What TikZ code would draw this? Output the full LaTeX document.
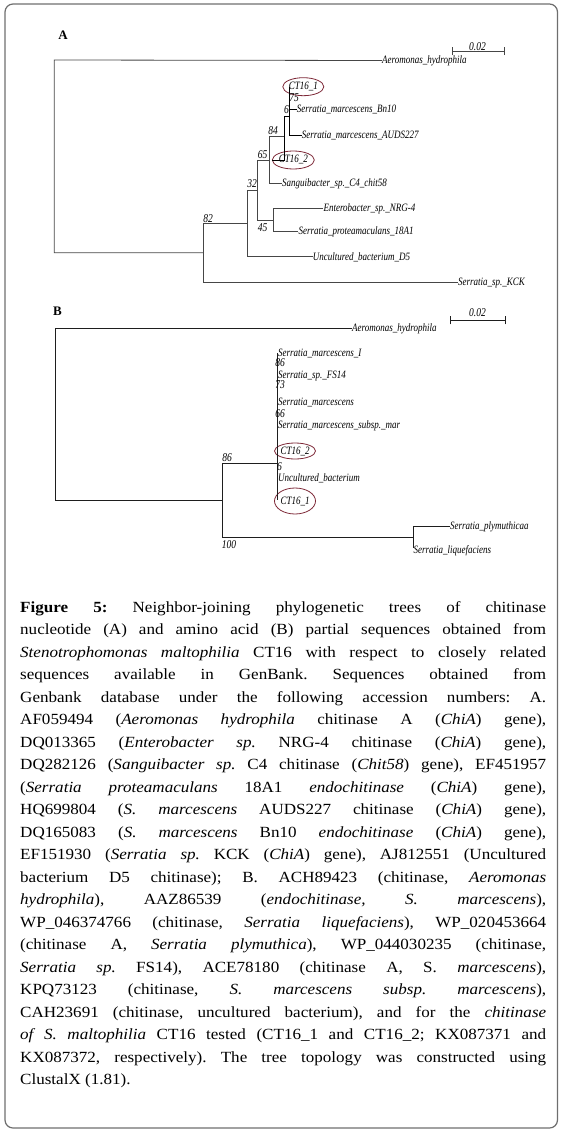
\documentclass[tikz,border=0pt]{standalone}
\usepackage{fontspec}
\usepackage{graphicx}
\setmainfont{Liberation Serif}
\usetikzlibrary{shapes.geometric}
\definecolor{treeA}{RGB}{70,70,70}
\definecolor{treeB}{RGB}{30,30,30}
\definecolor{ellred}{RGB}{125,40,55}
\definecolor{frame}{RGB}{110,110,110}
\tikzset{
  brA/.style={draw=treeA, line width=0.8pt},
  brB/.style={draw=treeB, line width=0.8pt},
  lbl/.style={font=\fontsize{9}{9}\selectfont\itshape, inner sep=0pt, anchor=west},
  bsv/.style={font=\fontsize{9.5}{9.5}\selectfont\itshape, inner sep=0pt},
  ell/.style={ellipse, draw=ellred, line width=0.8pt, inner sep=0pt, font=\fontsize{9}{9}\selectfont\itshape},
  panel/.style={font=\fontsize{13}{13}\selectfont\bfseries, inner sep=0pt},
  capl/.style={inner sep=0pt, anchor=base west, font=\fontsize{15.5}{15.5}\selectfont\frenchspacing},
}
\newcommand{\jl}[1]{\scalebox{1.1}[1]{\makebox[478.18pt][s]{#1}}}
\newcommand{\lastl}[1]{\scalebox{1.1}[1]{#1}}
\newcommand{\tl}[1]{\scalebox{1}[1.25]{#1}}
\begin{document}
\begin{tikzpicture}[x=1pt,y=-1pt]
\useasboundingbox (0,0) rectangle (565,1134);
\draw[frame, line width=1.2pt, rounded corners=8pt] (5,4) rectangle (557.5,1128);

% ---------------- Tree A ----------------
\node[panel] (pA) at (63,35) {A};
\coordinate (sa1) at (452.3,51.7); \coordinate (sa2) at (504.3,51.7);
\draw[brA] (sa1) -- (sa2);
\draw[brA] ([yshift=-3.5pt]sa1) -- ([yshift=4.3pt]sa1);
\draw[brA] ([yshift=-3.5pt]sa2) -- ([yshift=4.3pt]sa2);
\node[bsv] (sca) at (477.5,46.5) {\tl{0.02}};

\node[lbl] (aAer) at (382,60.5) {\tl{Aeromonas\_hydrophila}};
\node[lbl] (aKCK) at (458,282.8) {\tl{Serratia\_sp.\_KCK}};
\node[lbl] (aD5) at (312.7,257.2) {\tl{Uncultured\_bacterium\_D5}};
\node[lbl] (aEnt) at (323.3,208.8) {\tl{Enterobacter\_sp.\_NRG-4}};
\node[lbl] (aPro) at (298.3,232.2) {\tl{Serratia\_proteamaculans\_18A1}};
\node[lbl] (aSan) at (282,183.8) {\tl{Sanguibacter\_sp.\_C4\_chit58}};
\node[lbl] (aAUD) at (301.7,135.5) {\tl{Serratia\_marcescens\_AUDS227}};
\node[lbl] (aBn) at (296.7,109.8) {\tl{Serratia\_marcescens\_Bn10}};
\node[ell, minimum width=41pt, minimum height=18pt] (aCT1) at (303.3,86.7) {\tl{CT16\_1}};
\node[ell, minimum width=42pt, minimum height=18pt] (aCT2) at (293.3,160) {\tl{CT16\_2}};

\coordinate (a0t) at (54.3,60);   \coordinate (a0b) at (54.3,252.7);
\coordinate (a82t) at (203,223.3); \coordinate (a82b) at (203,282.3);
\coordinate (a32t) at (247.7,190); \coordinate (a32b) at (247.7,256.7);
\coordinate (a65t) at (257.7,160); \coordinate (a65b) at (257.7,220.7);
\coordinate (a45t) at (273.3,208.3); \coordinate (a45b) at (273.3,231.7);
\coordinate (a84t) at (269,136.7); \coordinate (a84b) at (269,183.3);
\coordinate (aXt) at (284.3,116.7); \coordinate (aXb) at (284.3,160);
\coordinate (aYt) at (289.7,86.7); \coordinate (aYb) at (289.7,135);

\draw[brA] (aAer.west) -- (a0t) -- (a0b) -- (a82t |- a0b);
\draw[brA] (a82t) -- (a82b) -- (aKCK.west |- a82b);
\draw[brA] (a82t) -- (a32t |- a82t);
\draw[brA] (a32t) -- (a32b) -- (aD5.west |- a32b);
\draw[brA] (a32t) -- (a65t |- a32t);
\draw[brA] (a65t) -- (a65b) -- (a45t |- a65b);
\draw[brA] (a45t) -- (a45b) -- (aPro.west |- a45b);
\draw[brA] (a45t) -- (aEnt.west |- a45t);
\draw[brA] (a65t) -- (a84t |- a65t);
\draw[brA] (a84t) -- (a84b) -- (aSan.west |- a84b);
\draw[brA] (a84t) -- (aXt |- a84t);
\draw[black, line width=0.8pt] (aXt) -- (aXb) -- (aCT2.west |- aXb);
\draw[black, line width=0.8pt] (aXt) -- (aYt |- aXt);
\draw[black, line width=0.8pt] (aYt) -- (aYb) -- (aAUD.west |- aYb);
\draw[black, line width=0.8pt] (aYt |- aBn) -- (aBn.west);

\node[bsv] (b82) at (208,218.5) {\tl{82}};
\node[bsv] (b32) at (252,184) {\tl{32}};
\node[bsv] (b65) at (262.5,154.5) {\tl{65}};
\node[bsv] (b45) at (262.5,227.5) {\tl{45}};
\node[bsv] (b84) at (273,131) {\tl{84}};
\node[bsv] (b6) at (286.5,109.5) {\tl{6}};
\node[bsv] (b75) at (294,97.5) {\tl{75}};

% ---------------- Tree B ----------------
\node[panel] (pB) at (57.5,311) {B};
\coordinate (sb1) at (450,320); \coordinate (sb2) at (505,320);
\draw[brB] (sb1) -- (sb2);
\draw[brB] ([yshift=-4.3pt]sb1) -- ([yshift=4.3pt]sb1);
\draw[brB] ([yshift=-4.3pt]sb2) -- ([yshift=4.3pt]sb2);
\node[bsv] (scb) at (477.5,313) {\tl{0.02}};

\node[lbl] (bAer) at (352,328.8) {\tl{Aeromonas\_hydrophila}};
\node[lbl] (bSm1) at (278,353.5) {\tl{Serratia\_marcescens\_I}};
\node[lbl] (bFS) at (278,375.5) {\tl{Serratia\_sp.\_FS14}};
\node[lbl] (bSm) at (278,402.7) {\tl{Serratia\_marcescens}};
\node[lbl] (bSub) at (278,426) {\tl{Serratia\_marcescens\_subsp.\_mar}};
\node[ell, minimum width=38pt, minimum height=16pt] (bCT2) at (295,451) {\tl{CT16\_2}};
\node[lbl] (bUnc) at (278,478.5) {\tl{Uncultured\_bacterium}};
\node[ell, minimum width=35pt, minimum height=26pt] (bCT1) at (295,501) {\tl{CT16\_1}};
\node[lbl] (bPly) at (450,526.5) {\tl{Serratia\_plymuthicaa}};
\node[lbl] (bLiq) at (413.3,551) {\tl{Serratia\_liquefaciens}};

\coordinate (b0t) at (55.5,328.3); \coordinate (b0b) at (55.5,500);
\coordinate (b86t) at (222.7,463.3); \coordinate (b86b) at (222.7,537.3);
\coordinate (bct) at (277,353.3); \coordinate (bcb) at (277,500);
\coordinate (b100t) at (413.3,526); \coordinate (b100b) at (413.3,548.3);

\draw[brB] (bAer.west |- b0t) -- (b0t) -- (b0b) -- (b86t |- b0b);
\draw[brB] (b86t) -- (b86b) -- (b100t |- b86b);
\draw[brB] (b86t) -- (bct |- b86t);
\draw[brB] (bct) -- (bcb);
\draw[brB] (b100t) -- (b100b);
\draw[brB] (b100t) -- (bPly.west |- b100t);

\node[bsv] (v86) at (227,457.5) {\tl{86}};
\node[bsv] (v100) at (229,545) {\tl{100}};
\node[bsv] (c86) at (280,363) {\tl{86}};
\node[bsv] (c73) at (280,385) {\tl{73}};
\node[bsv] (c66) at (280,414) {\tl{66}};
\node[bsv] (c6) at (279.5,466.5) {\tl{6}};

% ---------------- Caption ----------------
\node[capl] (l1) at (20,612) {\jl{\textbf{Figure 5:} Neighbor-joining phylogenetic trees of chitinase}};
\node[capl] (l2) at (20,634.52) {\jl{nucleotide (A) and amino acid (B) partial sequences obtained from}};
\node[capl] (l3) at (20,657.04) {\jl{\textit{Stenotrophomonas maltophilia} CT16 with respect to closely related}};
\node[capl] (l4) at (20,679.56) {\jl{sequences available in GenBank. Sequences obtained from}};
\node[capl] (l5) at (20,702.08) {\jl{Genbank database under the following accession numbers: A.}};
\node[capl] (l6) at (20,724.6) {\jl{AF059494 (\textit{Aeromonas hydrophila} chitinase A (\textit{ChiA}) gene),}};
\node[capl] (l7) at (20,747.12) {\jl{DQ013365 (\textit{Enterobacter sp.} NRG-4 chitinase (\textit{ChiA}) gene),}};
\node[capl] (l8) at (20,769.64) {\jl{DQ282126 (\textit{Sanguibacter sp.} C4 chitinase (\textit{Chit58}) gene), EF451957}};
\node[capl] (l9) at (20,792.16) {\jl{(\textit{Serratia proteamaculans} 18A1 \textit{endochitinase} (\textit{ChiA}) gene),}};
\node[capl] (l10) at (20,814.68) {\jl{HQ699804 (\textit{S. marcescens} AUDS227 chitinase (\textit{ChiA}) gene),}};
\node[capl] (l11) at (20,837.2) {\jl{DQ165083 (\textit{S. marcescens} Bn10 \textit{endochitinase} (\textit{ChiA}) gene),}};
\node[capl] (l12) at (20,859.72) {\jl{EF151930 (\textit{Serratia sp.} KCK (\textit{ChiA}) gene), AJ812551 (Uncultured}};
\node[capl] (l13) at (20,882.24) {\jl{bacterium D5 chitinase); B. ACH89423 (chitinase, \textit{Aeromonas}}};
\node[capl] (l14) at (20,904.76) {\jl{\textit{hydrophila}), AAZ86539 (\textit{endochitinase, S. marcescens}),}};
\node[capl] (l15) at (20,927.28) {\jl{WP\_046374766 (chitinase, \textit{Serratia liquefaciens}), WP\_020453664}};
\node[capl] (l16) at (20,949.8) {\jl{(chitinase A, \textit{Serratia plymuthica}), WP\_044030235 (chitinase,}};
\node[capl] (l17) at (20,972.32) {\jl{\textit{Serratia sp.} FS14), ACE78180 (chitinase A, S. \textit{marcescens}),}};
\node[capl] (l18) at (20,994.84) {\jl{KPQ73123 (chitinase, \textit{S. marcescens subsp. marcescens}),}};
\node[capl] (l19) at (20,1017.36) {\jl{CAH23691 (chitinase, uncultured bacterium), and for the \textit{chitinase}}};
\node[capl] (l20) at (20,1039.88) {\jl{\textit{of S. maltophilia} CT16 tested (CT16\_1 and CT16\_2; KX087371 and}};
\node[capl] (l21) at (20,1062.4) {\jl{KX087372, respectively). The tree topology was constructed using}};
\node[capl] (l22) at (20,1084.92) {\lastl{ClustalX (1.81).}};
\end{tikzpicture}
\end{document}
